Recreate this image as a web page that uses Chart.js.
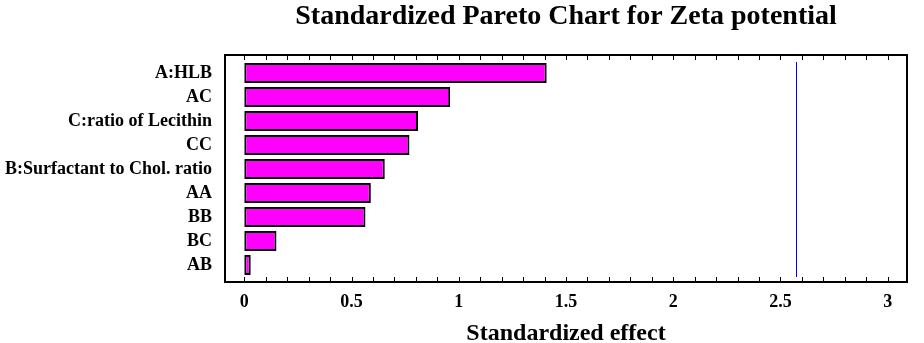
<!DOCTYPE html>
<html>
<head>
<meta charset="utf-8">
<script src="https://cdn.jsdelivr.net/npm/chart.js@4/dist/chart.umd.min.js"></script>
<style>
    html, body { margin: 0; padding: 0; background: #fff; }
    #wrap { width: 924px; height: 343px; }
</style>
</head>
<body>
<div id="wrap"><canvas id="pareto"></canvas></div>
<script>
const effects = ['A:HLB', 'AC', 'C:ratio of Lecithin', 'CC', 'B:Surfactant to Chol. ratio', 'AA', 'BB', 'BC', 'AB'];
const standardizedEffect = [1.41, 0.96, 0.81, 0.77, 0.655, 0.59, 0.565, 0.15, 0.03];
const criticalValue = 2.571;
const xTicks = [0, 0.5, 1, 1.5, 2, 2.5, 3];

const serif = '"Liberation Serif", "Times New Roman", serif';

// frame, inward ticks, critical line and title
const paretoDecor = {
    id: 'paretoDecor',
    afterDatasetsDraw(chart) {
        const ctx = chart.ctx;
        const area = chart.chartArea;
        const x = chart.scales.x;
        const top = area.top - 6;
        const bottom = area.bottom + 5;

        ctx.save();
        ctx.strokeStyle = '#0000ff';
        ctx.lineWidth = 1;
        const cx = Math.round(x.getPixelForValue(criticalValue)) + 0.5;
        ctx.beginPath();
        ctx.moveTo(cx, area.top + 1);
        ctx.lineTo(cx, area.bottom);
        ctx.stroke();

        ctx.strokeStyle = '#000';
        ctx.lineWidth = 2;
        ctx.strokeRect(area.left, top, area.right - area.left, bottom - top);

        ctx.lineWidth = 1;
        for (let i = 0; i <= 30; i++) {
            const px = Math.round(x.getPixelForValue(i / 10)) + 0.5;
            ctx.beginPath();
            ctx.moveTo(px, top);
            ctx.lineTo(px, top + 5);
            ctx.moveTo(px, bottom);
            ctx.lineTo(px, bottom - 5);
            ctx.stroke();
        }

        ctx.fillStyle = '#000';
        ctx.font = 'bold 28px ' + serif;
        ctx.textAlign = 'center';
        ctx.textBaseline = 'middle';
        ctx.fillText('Standardized Pareto Chart for Zeta potential', (area.left + area.right) / 2, 17);
        ctx.restore();
    }
};

new Chart(document.getElementById('pareto'), {
    type: 'bar',
    data: {
        labels: effects,
        datasets: [{
            data: standardizedEffect,
            backgroundColor: '#ff00ff',
            borderColor: '#000',
            borderWidth: 2,
            borderSkipped: false,
            barPercentage: 0.84,
            categoryPercentage: 1
        }]
    },
    options: {
        indexAxis: 'y',
        responsive: true,
        maintainAspectRatio: false,
        animation: false,
        layout: { padding: { top: 61, right: 17, left: 0, bottom: 0 } },
        plugins: {
            legend: { display: false },
            tooltip: { enabled: false },
            title: { display: false }
        },
        scales: {
            x: {
                type: 'linear',
                min: -0.09,
                max: 3.09,
                afterFit: (s) => { s.height = 66; },
                afterBuildTicks: (s) => { s.ticks = xTicks.map(v => ({ value: v })); },
                grid: { display: false, drawTicks: false },
                border: { display: false },
                ticks: {
                    padding: 15,
                    color: '#000',
                    font: { family: serif, size: 18, weight: 'bold' },
                    callback: (v) => String(v)
                },
                title: {
                    display: true,
                    text: 'Standardized effect',
                    color: '#000',
                    font: { family: serif, size: 24, weight: 'bold' },
                    padding: { top: 0, bottom: -5 }
                }
            },
            y: {
                type: 'category',
                offset: true,
                afterFit: (s) => { s.width = 225; },
                grid: { display: false, drawTicks: false },
                border: { display: false },
                ticks: {
                    autoSkip: false,
                    padding: 13,
                    color: '#000',
                    font: { family: serif, size: 18, weight: 'bold' }
                }
            }
        }
    },
    plugins: [paretoDecor]
});
</script>
</body>
</html>
